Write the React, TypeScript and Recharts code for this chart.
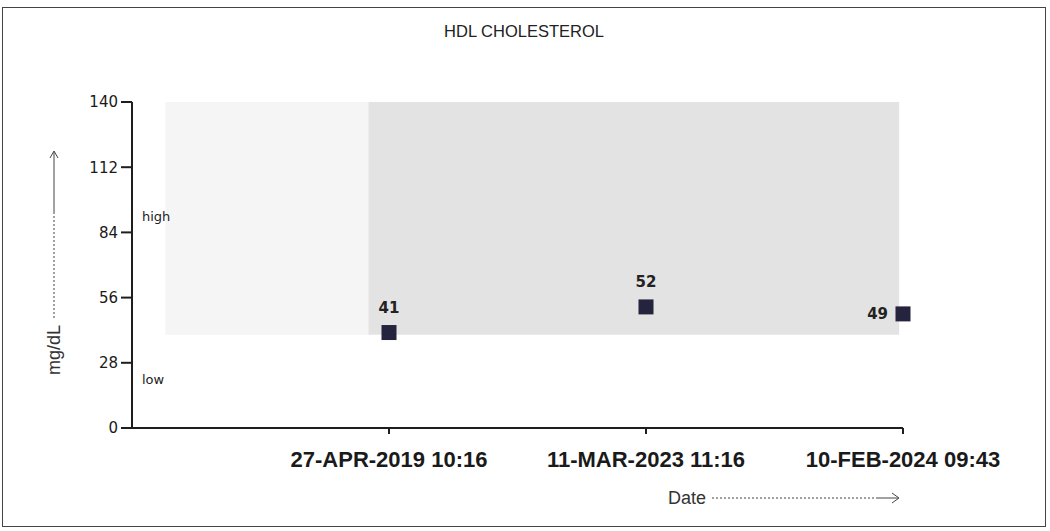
import React from 'react';
import {ScatterChart, Scatter, XAxis, YAxis, ReferenceArea, ReferenceLine} from 'recharts';

const dates = ['27-APR-2019 10:16', '11-MAR-2023 11:16', '10-FEB-2024 09:43'];
const hdlValues = [41, 52, 49];
const yTicks = [0, 28, 56, 84, 112, 140];
const xTicks = [1, 2, 3];
const normalRange = [40, 140];

const data = hdlValues.map((v, i) => ({x: i + 1, value: v, date: dates[i]}));

const markColor = '#24243f';
const axisColor = '#1e1e1e';

const SquareMark = (props: any) => {
  const {cx, cy, payload} = props;
  const last = payload.x === dates.length;
  return (
    <g>
      <rect x={cx - 7.5} y={cy - 7.5} width={15} height={15} fill={markColor} />
      <text
        x={last ? cx - 15 : cx}
        y={last ? cy + 5.5 : cy - 20}
        textAnchor={last ? 'end' : 'middle'}
        fontFamily="DejaVu Sans"
        fontWeight="bold"
        fontSize={15}
        fill="#222"
      >
        {payload.value}
      </text>
    </g>
  );
};

const YTitle = () => (
  <g>
    <text
      transform="translate(60,375) rotate(-90)"
      fontFamily="Liberation Sans"
      fontSize={18}
      fill="#333"
    >
      mg/dL
    </text>
    <line x1={54} y1={318} x2={54} y2={214} stroke="#444" strokeWidth={1} strokeDasharray="2 2" />
    <line x1={54} y1={214} x2={54} y2={152} stroke="#444" strokeWidth={1} />
    <polyline points="50,158 54,151 58,158" fill="none" stroke="#444" strokeWidth={1} />
  </g>
);

const XTitle = () => (
  <g>
    <text x={668} y={504} fontFamily="Liberation Sans" fontSize={18} fill="#333">
      Date
    </text>
    <line x1={712} y1={498} x2={876} y2={498} stroke="#444" strokeWidth={1} strokeDasharray="2 2" />
    <line x1={876} y1={498} x2={898} y2={498} stroke="#444" strokeWidth={1} />
    <polyline points="892,493 899,498 892,503" fill="none" stroke="#444" strokeWidth={1} />
  </g>
);

export default function App() {
  return (
    <div style={{position: 'absolute', left: 0, top: 0, width: 1050, height: 531, background: '#fff'}}>
      <div
        style={{
          position: 'absolute',
          left: 2,
          top: 7,
          width: 1042,
          height: 518,
          border: '1.5px solid #444',
        }}
      />
      <div
        style={{
          position: 'absolute',
          left: 0,
          width: 1048,
          top: 22,
          textAlign: 'center',
          fontFamily: 'Liberation Sans',
          fontSize: 16.5,
          color: '#222',
        }}
      >
        HDL CHOLESTEROL
      </div>
      <div style={{position: 'absolute', left: 0, top: 0}}>
        <ScatterChart width={1050} height={531} margin={{top: 102, right: 147, bottom: 43, left: 82}}>
          <ReferenceArea x1={0.13} x2={0.92} y1={normalRange[0]} y2={normalRange[1]} fill="#f5f5f5" fillOpacity={1} stroke="none" />
          <ReferenceArea x1={0.92} x2={2.985} y1={normalRange[0]} y2={normalRange[1]} fill="#e3e3e3" fillOpacity={1} stroke="none" />
          <ReferenceLine
            y={91}
            stroke="transparent"
            label={{value: 'high', position: 'insideLeft', offset: 10, fontFamily: 'DejaVu Sans', fontSize: 13, fill: '#222'}}
          />
          <ReferenceLine
            y={21}
            stroke="transparent"
            label={{value: 'low', position: 'insideLeft', offset: 10, fontFamily: 'DejaVu Sans', fontSize: 13, fill: '#222'}}
          />
          <XAxis
            type="number"
            dataKey="x"
            domain={[0, 3]}
            ticks={xTicks}
            tickFormatter={(v: number) => dates[v - 1]}
            height={60}
            tickSize={6}
            tickMargin={17}
            stroke={axisColor}
            strokeWidth={2}
            tick={{fontFamily: 'Liberation Sans', fontWeight: 'bold', fontSize: 22, fill: '#1a1a1a'}}
            label={<XTitle />}
          />
          <YAxis
            type="number"
            dataKey="value"
            domain={[0, 140]}
            ticks={yTicks}
            width={50}
            tickSize={11}
            tickMargin={3}
            stroke={axisColor}
            strokeWidth={2}
            tick={{fontFamily: 'DejaVu Sans', fontSize: 15, fill: '#1a1a1a'}}
            label={<YTitle />}
          />
          <Scatter data={data} shape={<SquareMark />} isAnimationActive={false} />
        </ScatterChart>
      </div>
    </div>
  );
}
